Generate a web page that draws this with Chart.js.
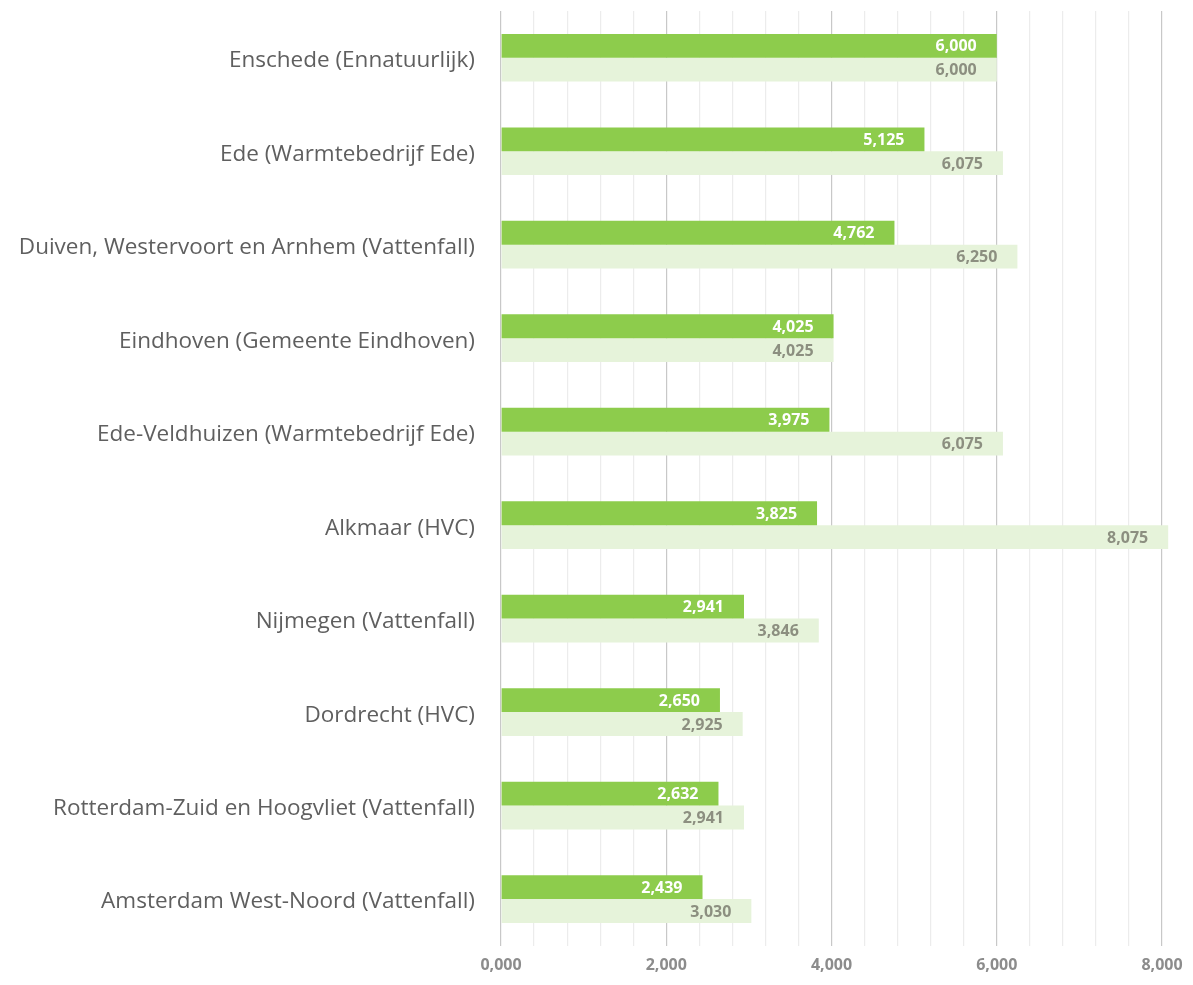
<!DOCTYPE html>
<html>
<head>
<meta charset="utf-8">
<script src="https://cdn.jsdelivr.net/npm/chart.js@4"></script>
<style>
  html, body { margin: 0; padding: 0; background: #fff; }
  #wrap { width: 1193px; height: 985px; }
</style>
</head>
<body>
<div id="wrap"><canvas class="bars"></canvas></div>
<script>
const categories = [
    'Enschede (Ennatuurlijk)',
    'Ede (Warmtebedrijf Ede)',
    'Duiven, Westervoort en Arnhem (Vattenfall)',
    'Eindhoven (Gemeente Eindhoven)',
    'Ede-Veldhuizen (Warmtebedrijf Ede)',
    'Alkmaar (HVC)',
    'Nijmegen (Vattenfall)',
    'Dordrecht (HVC)',
    'Rotterdam-Zuid en Hoogvliet (Vattenfall)',
    'Amsterdam West-Noord (Vattenfall)'
];
const darkValues = [6000, 5125, 4762, 4025, 3975, 3825, 2941, 2650, 2632, 2439];
const lightValues = [6000, 6075, 6250, 4025, 6075, 8075, 3846, 2925, 2941, 3030];
const majorTicks = [0, 2000, 4000, 6000, 8000];

const fmt = v => v === 0 ? '0,000' : v.toLocaleString('en-US');

// draws the value at the inner end of each bar
const barLabels = {
    id: 'barLabels',
    afterDatasetsDraw(chart) {
        const ctx = chart.ctx;
        ctx.save();
        ctx.font = 'bold 16px "Open Sans"';
        ctx.textAlign = 'right';
        ctx.textBaseline = 'middle';
        chart.data.datasets.forEach((ds, i) => {
            chart.getDatasetMeta(i).data.forEach((bar, j) => {
                ctx.fillStyle = i === 0 ? '#ffffff' : '#8c8f80';
                ctx.fillText(fmt(ds.data[j]), bar.x - 20, bar.y + 1);
            });
        });
        ctx.restore();
    }
};

new Chart(document.querySelector('.bars'), {
    type: 'bar',
    data: {
        labels: categories,
        datasets: [
            { data: darkValues, backgroundColor: '#8dcc4c', clip: false },
            { data: lightValues, backgroundColor: '#e6f3da', clip: false }
        ]
    },
    options: {
        indexAxis: 'y',
        responsive: true,
        maintainAspectRatio: false,
        animation: false,
        layout: { padding: { top: 11, right: 31, bottom: 0, left: 0 } },
        plugins: { legend: { display: false }, tooltip: { enabled: false } },
        datasets: { bar: { categoryPercentage: 0.51, barPercentage: 1 } },
        scales: {
            x: {
                min: 0,
                max: 8000,
                afterBuildTicks(scale) {
                    const t = [];
                    for (let v = 0; v <= 8000; v += 400) t.push({ value: v });
                    scale.ticks = t;
                },
                grid: {
                    color: c => majorTicks.includes(c.tick.value) ? '#c8c8c8' : '#ececec',
                    lineWidth: 1.2,
                    drawTicks: false
                },
                border: { display: false },
                ticks: {
                    autoSkip: false,
                    maxRotation: 0,
                    padding: 10,
                    color: '#8c8c8c',
                    font: { family: 'Open Sans', size: 16, weight: 'bold' },
                    callback: v => majorTicks.includes(v) ? fmt(v) : ''
                }
            },
            y: {
                afterFit(scale) {
                    scale.width = 501;
                    scale.paddingTop = 0;
                    scale.paddingBottom = 0;
                },
                grid: { display: false, drawTicks: false },
                border: { display: false },
                ticks: {
                    padding: 26,
                    labelOffset: 3,
                    color: '#5f5f5f',
                    font: { family: 'Open Sans', size: 22.5 }
                }
            }
        }
    },
    plugins: [barLabels]
});
</script>
</body>
</html>
